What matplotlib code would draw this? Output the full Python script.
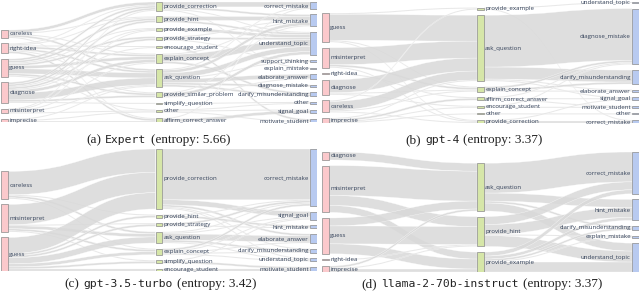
import matplotlib
matplotlib.use("Agg")
import matplotlib.pyplot as plt
from matplotlib.path import Path
from matplotlib.patches import PathPatch, Rectangle
from matplotlib.offsetbox import TextArea, HPacker, AnchoredOffsetbox

# ---------------- data ----------------
# (a) Expert
a_left = ['careless', 'right-idea', 'guess', 'diagnose', 'misinterpret', 'imprecise']
a_mid = ['provide_correction', 'provide_hint', 'provide_example', 'provide_strategy',
         'encourage_student', 'explain_concept', 'ask_question', 'provide_similar_problem',
         'simplify_question', 'other', 'affirm_correct_answer']
a_right = ['correct_mistake', 'hint_mistake', 'understand_topic', 'support_thinking',
           'explain_mistake', 'elaborate_answer', 'diagnose_mistake',
           'clarify_misunderstanding', 'other', 'signal_goal', 'motivate_student']
a_flows1 = [
    ('careless', 'provide_correction', 3), ('careless', 'provide_hint', 1),
    ('careless', 'explain_concept', 1), ('careless', 'ask_question', 2),
    ('careless', 'affirm_correct_answer', 1),
    ('right-idea', 'provide_correction', 1), ('right-idea', 'provide_hint', 1),
    ('right-idea', 'encourage_student', 1), ('right-idea', 'explain_concept', 2),
    ('right-idea', 'ask_question', 2), ('right-idea', 'provide_similar_problem', 1),
    ('right-idea', 'affirm_correct_answer', 2),
    ('guess', 'provide_correction', 2), ('guess', 'provide_hint', 2),
    ('guess', 'provide_example', 1), ('guess', 'provide_strategy', 2),
    ('guess', 'explain_concept', 3), ('guess', 'ask_question', 5),
    ('guess', 'provide_similar_problem', 2), ('guess', 'other', 1),
    ('diagnose', 'provide_correction', 2), ('diagnose', 'provide_hint', 2),
    ('diagnose', 'provide_example', 1), ('diagnose', 'provide_strategy', 2),
    ('diagnose', 'encourage_student', 1), ('diagnose', 'explain_concept', 3),
    ('diagnose', 'ask_question', 7), ('diagnose', 'provide_similar_problem', 2),
    ('diagnose', 'simplify_question', 1),
    ('misinterpret', 'provide_correction', 1), ('misinterpret', 'provide_example', 1),
    ('misinterpret', 'explain_concept', 1), ('misinterpret', 'ask_question', 1),
    ('misinterpret', 'other', 1),
    ('imprecise', 'ask_question', 1), ('imprecise', 'other', 1),
    ('imprecise', 'affirm_correct_answer', 1),
]
a_flows2 = [
    ('provide_correction', 'correct_mistake', 5), ('provide_correction', 'hint_mistake', 2),
    ('provide_correction', 'understand_topic', 1), ('provide_correction', 'explain_mistake', 1),
    ('provide_hint', 'hint_mistake', 4), ('provide_hint', 'understand_topic', 2),
    ('provide_example', 'understand_topic', 3),
    ('provide_strategy', 'hint_mistake', 1), ('provide_strategy', 'understand_topic', 2),
    ('provide_strategy', 'support_thinking', 1),
    ('encourage_student', 'motivate_student', 2),
    ('explain_concept', 'understand_topic', 7), ('explain_concept', 'hint_mistake', 1),
    ('explain_concept', 'clarify_misunderstanding', 2),
    ('ask_question', 'hint_mistake', 3), ('ask_question', 'understand_topic', 5),
    ('ask_question', 'support_thinking', 1), ('ask_question', 'elaborate_answer', 4),
    ('ask_question', 'diagnose_mistake', 2), ('ask_question', 'clarify_misunderstanding', 2),
    ('ask_question', 'correct_mistake', 1),
    ('provide_similar_problem', 'understand_topic', 3),
    ('provide_similar_problem', 'hint_mistake', 1),
    ('provide_similar_problem', 'elaborate_answer', 1),
    ('simplify_question', 'other', 1),
    ('other', 'other', 1), ('other', 'signal_goal', 1), ('other', 'motivate_student', 1),
    ('affirm_correct_answer', 'signal_goal', 3), ('affirm_correct_answer', 'correct_mistake', 1),
]

# (b) gpt-4
b_left = ['guess', 'misinterpret', 'right-idea', 'diagnose', 'careless', 'imprecise']
b_mid = ['provide_example', 'ask_question', 'explain_concept', 'affirm_correct_answer',
         'encourage_student', 'other', 'provide_correction']
b_right = ['understand_topic', 'diagnose_mistake', 'clarify_misunderstanding',
           'elaborate_answer', 'signal_goal', 'motivate_student', 'other', 'correct_mistake']
b_flows1 = [
    ('guess', 'ask_question', 26), ('guess', 'provide_example', 1),
    ('guess', 'explain_concept', 1), ('guess', 'provide_correction', 1),
    ('misinterpret', 'ask_question', 17), ('misinterpret', 'explain_concept', 2),
    ('misinterpret', 'provide_correction', 1),
    ('right-idea', 'affirm_correct_answer', 1),
    ('diagnose', 'ask_question', 13), ('diagnose', 'explain_concept', 1),
    ('diagnose', 'encourage_student', 1),
    ('careless', 'ask_question', 9), ('careless', 'provide_correction', 1),
    ('careless', 'explain_concept', 1), ('careless', 'provide_example', 1),
    ('imprecise', 'ask_question', 1), ('imprecise', 'affirm_correct_answer', 2),
    ('imprecise', 'encourage_student', 1), ('imprecise', 'other', 1),
]
b_flows2 = [
    ('provide_example', 'understand_topic', 1), ('provide_example', 'correct_mistake', 1),
    ('ask_question', 'diagnose_mistake', 52), ('ask_question', 'clarify_misunderstanding', 12),
    ('ask_question', 'elaborate_answer', 1), ('ask_question', 'signal_goal', 1),
    ('explain_concept', 'clarify_misunderstanding', 2), ('explain_concept', 'diagnose_mistake', 2),
    ('explain_concept', 'elaborate_answer', 1),
    ('affirm_correct_answer', 'signal_goal', 1), ('affirm_correct_answer', 'motivate_student', 1),
    ('affirm_correct_answer', 'diagnose_mistake', 1),
    ('encourage_student', 'motivate_student', 1), ('encourage_student', 'diagnose_mistake', 1),
    ('other', 'other', 1),
    ('provide_correction', 'correct_mistake', 2), ('provide_correction', 'signal_goal', 1),
]

# (c) gpt-3.5-turbo
c_left = ['careless', 'misinterpret', 'guess']
c_mid = ['provide_correction', 'provide_hint', 'provide_strategy', 'ask_question',
         'explain_concept', 'simplify_question', 'encourage_student']
c_right = ['correct_mistake', 'signal_goal', 'hint_mistake', 'elaborate_answer',
           'clarify_misunderstanding', 'understand_topic', 'motivate_student']
c_flows1 = [
    ('careless', 'provide_correction', 23), ('careless', 'provide_hint', 1),
    ('careless', 'ask_question', 2), ('careless', 'explain_concept', 1),
    ('misinterpret', 'provide_correction', 20), ('misinterpret', 'ask_question', 3),
    ('misinterpret', 'explain_concept', 2), ('misinterpret', 'provide_strategy', 1),
    ('misinterpret', 'simplify_question', 1),
    ('guess', 'provide_correction', 16), ('guess', 'provide_hint', 2),
    ('guess', 'provide_strategy', 2), ('guess', 'ask_question', 6),
    ('guess', 'explain_concept', 3), ('guess', 'simplify_question', 2),
    ('guess', 'encourage_student', 2),
]
c_flows2 = [
    ('provide_correction', 'correct_mistake', 50), ('provide_correction', 'signal_goal', 5),
    ('provide_correction', 'elaborate_answer', 2),
    ('provide_correction', 'clarify_misunderstanding', 1),
    ('provide_correction', 'understand_topic', 1),
    ('provide_hint', 'hint_mistake', 2), ('provide_hint', 'correct_mistake', 1),
    ('provide_strategy', 'correct_mistake', 2), ('provide_strategy', 'hint_mistake', 1),
    ('ask_question', 'elaborate_answer', 6), ('ask_question', 'clarify_misunderstanding', 2),
    ('ask_question', 'correct_mistake', 1), ('ask_question', 'signal_goal', 1),
    ('ask_question', 'understand_topic', 1),
    ('explain_concept', 'correct_mistake', 2), ('explain_concept', 'clarify_misunderstanding', 1),
    ('explain_concept', 'understand_topic', 1), ('explain_concept', 'signal_goal', 1),
    ('explain_concept', 'elaborate_answer', 1),
    ('simplify_question', 'motivate_student', 2), ('simplify_question', 'signal_goal', 1),
    ('encourage_student', 'motivate_student', 2),
]

# (d) llama-2-70b-instruct
d_left = ['diagnose', 'misinterpret', 'guess', 'right-idea', 'imprecise']
d_mid = ['ask_question', 'provide_hint', 'provide_example']
d_right = ['correct_mistake', 'hint_mistake', 'clarify_misunderstanding',
           'explain_mistake', 'understand_topic']
d_flows1 = [
    ('diagnose', 'ask_question', 8),
    ('misinterpret', 'ask_question', 30), ('misinterpret', 'provide_hint', 10),
    ('misinterpret', 'provide_example', 7),
    ('guess', 'ask_question', 8), ('guess', 'provide_hint', 18),
    ('guess', 'provide_example', 10),
    ('right-idea', 'provide_hint', 1),
    ('imprecise', 'ask_question', 2), ('imprecise', 'provide_hint', 1),
    ('imprecise', 'provide_example', 3),
]
d_flows2 = [
    ('ask_question', 'correct_mistake', 30), ('ask_question', 'hint_mistake', 8),
    ('ask_question', 'clarify_misunderstanding', 2), ('ask_question', 'understand_topic', 8),
    ('provide_hint', 'correct_mistake', 8), ('provide_hint', 'hint_mistake', 10),
    ('provide_hint', 'explain_mistake', 1), ('provide_hint', 'understand_topic', 11),
    ('provide_example', 'correct_mistake', 4), ('provide_example', 'hint_mistake', 3),
    ('provide_example', 'clarify_misunderstanding', 2), ('provide_example', 'explain_mistake', 1),
    ('provide_example', 'understand_topic', 10),
]

captions = [
    ('(a)', 'Expert', '(entropy: 5.66)'),
    ('(b)', 'gpt-4', '(entropy: 3.37)'),
    ('(c)', 'gpt-3.5-turbo', '(entropy: 3.42)'),
    ('(d)', 'llama-2-70b-instruct', '(entropy: 3.37)'),
]

# ---------------- drawing ----------------
W, H = 640, 294
fig = plt.figure(figsize=(6.4, 2.94), dpi=100)

node_colors = ['#fbc9cc', '#d6e6a8', '#b8caf0']
link_color = '#d9d9d9'
label_font = dict(family='Open Sans', fontsize=4.4, color='#34425a')


def sankey(ax, cols, flows1, flows2, px_h, px_w):
    pad = 5.6 / px_h
    nw = 7.0 / px_w
    flows = [flows1, flows2]
    vals = []
    for i, c in enumerate(cols):
        d = {}
        for n in c:
            vin = sum(v for s, t, v in flows[i - 1] if t == n) if i > 0 else 0
            vout = sum(v for s, t, v in flows[i] if s == n) if i < 2 else 0
            d[n] = max(vin, vout)
        vals.append(d)
    ky = min((1 - (len(c) - 1) * pad) / sum(vals[i].values()) for i, c in enumerate(cols))
    xs = [0, 0.5 - nw / 2, 1 - nw]
    pos = []
    for i, c in enumerate(cols):
        total = sum(vals[i].values()) * ky + (len(c) - 1) * pad
        y = 1 - total
        d = {}
        for n in c:
            h = vals[i][n] * ky
            d[n] = (y, y + h)
            y += h + pad
        pos.append(d)

    # links: ordered by the other end's position, like d3-sankey
    for i, fl in enumerate(flows):
        src, tgt = pos[i], pos[i + 1]
        seg_s, seg_t = {}, {}
        for s in src:
            outs = sorted([f for f in fl if f[0] == s], key=lambda f: tgt[f[1]][0])
            y = src[s][0]
            for f in outs:
                seg_s[(f[0], f[1])] = (y, y + f[2] * ky)
                y += f[2] * ky
        for t in tgt:
            ins = sorted([f for f in fl if f[1] == t], key=lambda f: src[f[0]][0])
            y = tgt[t][0]
            for f in ins:
                seg_t[(f[0], f[1])] = (y, y + f[2] * ky)
                y += f[2] * ky
        x0 = xs[i] + nw
        x1 = xs[i + 1]
        xm = (x0 + x1) / 2
        for s, t, v in fl:
            a0, a1 = seg_s[(s, t)]
            b0, b1 = seg_t[(s, t)]
            verts = [(x0, a0), (xm, a0), (xm, b0), (x1, b0),
                     (x1, b1), (xm, b1), (xm, a1), (x0, a1), (x0, a0)]
            codes = [Path.MOVETO, Path.CURVE4, Path.CURVE4, Path.CURVE4,
                     Path.LINETO, Path.CURVE4, Path.CURVE4, Path.CURVE4, Path.CLOSEPOLY]
            ax.add_patch(PathPatch(Path(verts, codes), facecolor=link_color,
                                   edgecolor='white', linewidth=0.25, alpha=0.85, zorder=1))

    # nodes + labels
    for i, c in enumerate(cols):
        for n in c:
            y0, y1 = pos[i][n]
            ax.add_patch(Rectangle((xs[i], y0), nw, max(y1 - y0, 0.6 / px_h),
                                   facecolor=node_colors[i], edgecolor='#8a8a8a',
                                   linewidth=0.5, zorder=3))
            ym = (y0 + y1) / 2
            if i < 2:
                ax.text(xs[i] + nw + 1.2 / px_w, ym, n, ha='left', va='center', zorder=4,
                        **label_font)
            else:
                ax.text(xs[i] - 1.2 / px_w, ym, n, ha='right', va='center', zorder=4,
                        **label_font)
    ax.set_xlim(0, 1)
    ax.set_ylim(1, 0)
    ax.axis('off')


panels = [
    ((1, 317, 2, 122), (a_left, a_mid, a_right), a_flows1, a_flows2, (158, 140)),
    ((322, 639, 2, 123), (b_left, b_mid, b_right), b_flows1, b_flows2, (474, 140)),
    ((1, 317, 149, 271), (c_left, c_mid, c_right), c_flows1, c_flows2, (160, 284)),
    ((322, 639, 152, 272), (d_left, d_mid, d_right), d_flows1, d_flows2, (482, 284)),
]

for (box, cols, f1, f2, cap), capt in zip(panels, captions):
    x0, x1, y0, y1 = box
    ax = fig.add_axes([x0 / W, 1 - y1 / H, (x1 - x0) / W, (y1 - y0) / H])
    sankey(ax, cols, f1, f2, y1 - y0, x1 - x0)

    serif = dict(family='Liberation Serif', fontsize=9.5, color='#222222')
    mono = dict(family='DejaVu Sans Mono', fontsize=8.2, color='#222222')
    parts = [TextArea(capt[0], textprops=serif), TextArea(capt[1], textprops=mono),
             TextArea(capt[2], textprops=serif)]
    pack = HPacker(children=parts, align='baseline', pad=0, sep=3)
    anc = AnchoredOffsetbox(loc='center', child=pack, pad=0, borderpad=0, frameon=False,
                            bbox_to_anchor=(cap[0] / W, 1 - cap[1] / H),
                            bbox_transform=fig.transFigure)
    fig.add_artist(anc)

fig.savefig('out.png', dpi=100, facecolor='white')
